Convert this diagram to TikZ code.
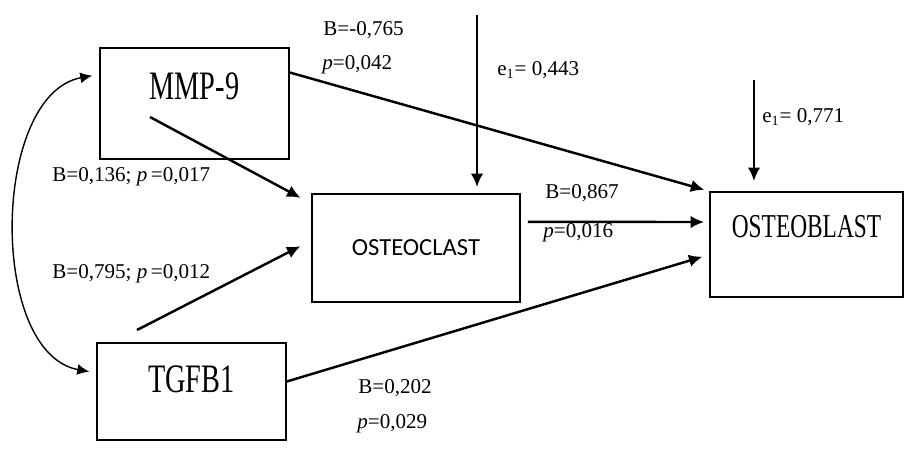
\documentclass[tikz,border=0pt]{standalone}
\usepackage{fontspec}
\setmainfont{Liberation Serif}
\newfontfamily\boxfont{Liberation Serif}[FakeStretch=0.7]
\newfontfamily\clastfont{Carlito}
\usetikzlibrary{arrows.meta}

\begin{document}
\begin{tikzpicture}[x=0.02cm,y=-0.02cm,>={Latex[length=0.27cm,width=0.25cm]},
  box/.style={draw,line width=1pt,inner sep=0pt},
  lab/.style={anchor=base west,inner sep=0pt,font=\fontsize{12}{14}\selectfont},
  path/.style={->,line width=1.4pt}]
\useasboundingbox (0,0) rectangle (906,453);
\node[box,minimum width=3.78cm,minimum height=2.22cm,text depth=0.68cm,font=\boxfont\fontsize{23}{25}\selectfont] (mmp) at (194.5,103.5) {MMP-9};
\node[box,minimum width=4.16cm,minimum height=2.16cm,font=\clastfont\fontsize{14}{16}\selectfont] (clast) at (416,248) {OSTEOCLAST};
\node[box,minimum width=3.86cm,minimum height=2.1cm,text depth=0.74cm,font=\boxfont\fontsize{19}{21}\selectfont] (blast) at (806.5,244.5) {OSTEOBLAST};
\node[box,minimum width=3.78cm,minimum height=1.94cm,text depth=0.48cm,font=\boxfont\fontsize{23}{25}\selectfont] (tgfb) at (191.5,391.5) {TGFB1};

\coordinate (m1) at (150,117);
\coordinate (t1) at (137,330);
\coordinate (e1) at (477,15);
\coordinate (e2) at (754,80);

\draw[<->,>={Latex[length=0.24cm,width=0.22cm]},line width=0.8pt,shorten <=0.14cm,shorten >=0.14cm] (mmp.163) .. controls +(-108,20) and +(-108,-20) .. (tgfb.169);
\draw[path,shorten >=0.1cm] (mmp.18) -- (blast.north west);
\draw[path,shorten >=0.24cm] (m1) -- (clast.157);
\draw[path,shorten >=0.24cm] (t1) -- (clast.176);
\draw[path,shorten <=0.14cm,shorten >=0.1cm] (clast.14) -- (blast.167);
\draw[path,shorten >=0.14cm] (tgfb.6) -- (blast.186);
\draw[path,shorten >=0.12cm] (e1) -- (e1 |- clast.north);
\draw[path,shorten >=0.2cm] (e2) -- (e2 |- blast.north);

\node[lab] (b1) at (323,35) {B=-0,765};
\node[lab] (p1) at (322,69) {\textit{p}=0,042};
\node[lab] (r1) at (497,75) {e\textsubscript{1}= 0,443};
\node[lab] (r2) at (762,122) {e\textsubscript{1}= 0,771};
\node[lab] (b2) at (52,181) {B=0,136; \textit{p}\,=0,017};
\node[lab] (b3) at (52,278) {B=0,795; \textit{p}\,=0,012};
\node[lab] (b4) at (545,198) {B=0,867};
\node[lab] (p4) at (543,237) {\textit{p}=0,016};
\node[lab] (b5) at (358,393) {B=0,202};
\node[lab] (p5) at (357,428) {\textit{p}=0,029};
    %
\end{tikzpicture}
\end{document}
